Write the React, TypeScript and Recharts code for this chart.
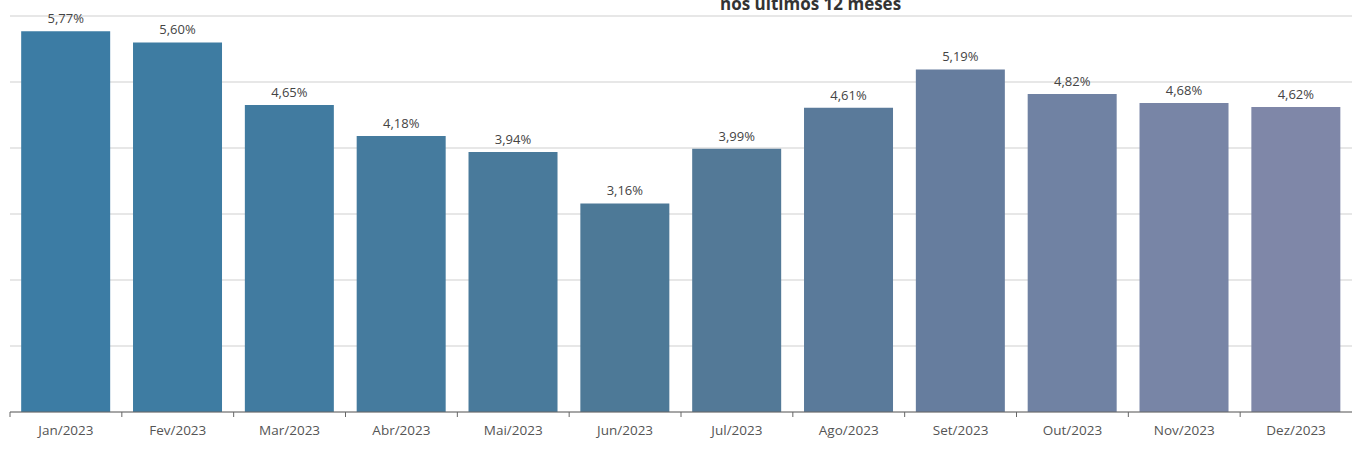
import { Bar, BarChart, CartesianGrid, Cell, LabelList, XAxis, YAxis } from "recharts";

const months = [
  "Jan/2023", "Fev/2023", "Mar/2023", "Abr/2023", "Mai/2023", "Jun/2023",
  "Jul/2023", "Ago/2023", "Set/2023", "Out/2023", "Nov/2023", "Dez/2023",
];
const rates = [5.77, 5.6, 4.65, 4.18, 3.94, 3.16, 3.99, 4.61, 5.19, 4.82, 4.68, 4.62];
const yTicks = [0, 1, 2, 3, 4, 5, 6];

const barColors = [
  "#3c7ca4", "#3e7ca2", "#417ba0", "#457b9e", "#497a9b", "#4d7997",
  "#537997", "#5a7a9a", "#667d9e", "#7082a3", "#7885a6", "#7f87a8",
];

const W = 1358;
const H = 458;
const M = { top: 16, right: 6, bottom: 14, left: 10 };
const halfBand = (W - M.left - M.right) / months.length / 2;

const data = months.map((month, i) => ({ month, rate: rates[i] }));

const fmt = (v: number) => `${v.toFixed(2).replace(".", ",")}%`;

function MonthTick(props: any) {
  const { x, y, payload } = props;
  return (
    <g>
      <line x1={x - halfBand} x2={x - halfBand} y1={y - 8} y2={y - 3} stroke="#666" />
      <text x={x} y={y + 15} textAnchor="middle" fill="#555" fontSize={13.5} fontFamily="Open Sans, sans-serif">
        {payload.value}
      </text>
    </g>
  );
}

export default function App() {
  return (
    <div style={{ position: "absolute", left: 0, top: 0, width: W, height: H, background: "#fff", overflow: "hidden" }}>
      <BarChart width={W} height={H} data={data} margin={M} barCategoryGap="10%">
        <CartesianGrid vertical={false} stroke="#cfcfcf" />
        <XAxis
          dataKey="month"
          interval={0}
          height={32}
          axisLine={{ stroke: "#666" }}
          tickLine={false}
          tick={<MonthTick />}
        />
        <YAxis
          width={0}
          domain={[0, 6]}
          ticks={yTicks}
          interval={0}
          tick={{ fill: "transparent", fontSize: 1 }}
          tickLine={false}
          axisLine={{ stroke: "#777" }}
        />
        <Bar dataKey="rate" isAnimationActive={false}>
          {data.map((_, i) => (
            <Cell key={i} fill={barColors[i]} />
          ))}
          <LabelList
            dataKey="rate"
            position="top"
            offset={8}
            formatter={(v: any) => fmt(Number(v))}
            style={{ fill: "#444", fontSize: 13, fontFamily: "Open Sans, sans-serif" }}
          />
        </Bar>
      </BarChart>
      <div
        style={{
          position: "absolute",
          top: -8,
          left: 720,
          fontFamily: "Open Sans, sans-serif",
          fontWeight: 700,
          fontSize: 17,
          color: "#333",
        }}
      >
        nos últimos 12 meses
      </div>
    </div>
  );
}
